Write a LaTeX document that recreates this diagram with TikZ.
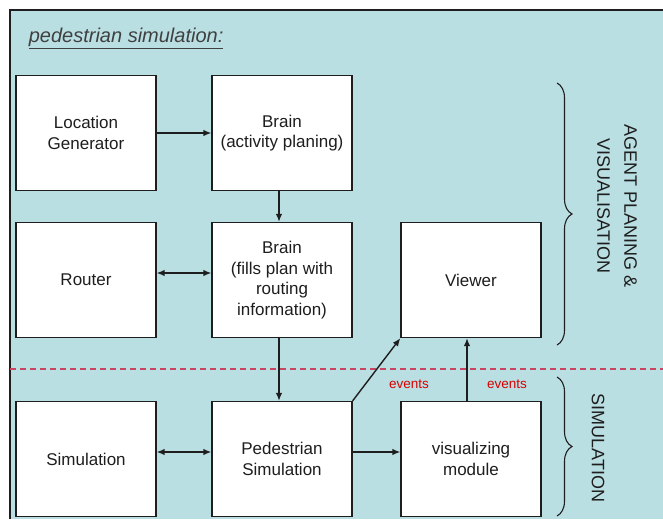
\documentclass[tikz,border=0pt]{standalone}
\usepackage{fontspec}
\setmainfont{Liberation Sans}
\usepackage{xcolor}
\usepackage{tikz}
\usetikzlibrary{arrows.meta,decorations.pathreplacing}

\definecolor{panelbg}{RGB}{186,223,227}
\definecolor{inkgray}{RGB}{30,30,30}
\definecolor{sepred}{RGB}{200,70,95}

\begin{document}
\begin{tikzpicture}[x=1pt,y=-1pt,line width=1pt,
    blockbox/.style={draw=inkgray,fill=white,line width=1.3pt,minimum width=140pt,minimum height=115pt,
      inner sep=0pt,align=center,text=inkgray,font=\fontsize{17}{20.5}\selectfont},
    flow/.style={draw=inkgray,line width=1.4pt,-{Latex[length=8pt,width=6.5pt]}},
    twoway/.style={draw=inkgray,line width=1.4pt,{Latex[length=8pt,width=6.5pt]}-{Latex[length=8pt,width=6.5pt]}},
    evlabel/.style={text=red!85!black,font=\fontsize{13.5}{15}\selectfont},
    layerlabel/.style={rotate=-90,align=center,text=inkgray,font=\fontsize{18}{27}\selectfont}]
    \useasboundingbox (0,0) rectangle (663,519);
    % panel
    \fill[panelbg] (10,10) rectangle (663,519);
    \draw[inkgray,line width=1.3pt] (10,519) -- (10,10) -- (663,10);
    \node[anchor=west,text=inkgray!85,font=\fontsize{20}{23}\selectfont] (title) at (25,38)
      {\underline{\textit{pedestrian simulation:}}};
    % separator
    \coordinate (sepl) at (10,369);
    \coordinate (sepr) at (663,369);
    \draw[sepred,dash pattern=on 6pt off 4pt,line width=1.2pt] (sepl) -- (sepr);
    % blocks
    \node[blockbox] (locgen) at (86,133) {Location\\Generator};
    \node[blockbox] (brain) at (282,133) {Brain\\(activity planing)};
    \node[blockbox] (router) at (86,280) {Router};
    \node[blockbox] (brainroute) at (282,280) {Brain\\(fills plan with\\routing\\information)};
    \node[blockbox] (viewer) at (471,280) {Viewer};
    \node[blockbox] (simul) at (86,459) {Simulation};
    \node[blockbox] (pedsim) at (282,459) {Pedestrian\\Simulation};
    \node[blockbox] (vismod) at (471,459) {visualizing\\module};
    % connectors
    \draw[flow] (locgen) -- (brain);
    \draw[flow] ([xshift=-3pt]brain.south) -- ([xshift=-3pt]brainroute.north);
    \draw[twoway] ([yshift=7pt]router.east) -- ([yshift=7pt]brainroute.west);
    \draw[flow] ([xshift=-3pt]brainroute.south) -- ([xshift=-3pt]pedsim.north);
    \draw[twoway] ([yshift=7pt]simul.east) -- ([yshift=7pt]pedsim.west);
    \draw[flow] ([yshift=7pt]pedsim.east) -- ([yshift=7pt]vismod.west);
    \draw[flow] (pedsim.north east) -- (viewer.south west);
    \draw[flow] ([xshift=-4pt]vismod.north) -- ([xshift=-4pt]viewer.south);
    \node[evlabel] (ev1) at (409,384) {events};
    \node[evlabel] (ev2) at (507,384) {events};
    % braces
    \coordinate (agtop) at (557,83);
    \coordinate (agbot) at (557,345);
    \coordinate (simtop) at (557,377);
    \coordinate (simbot) at (557,516);
    \draw[inkgray,line width=1.1pt,decorate,decoration={brace,amplitude=15pt}] (agtop) -- (agbot);
    \draw[inkgray,line width=1.1pt,decorate,decoration={brace,amplitude=15pt}] (simtop) -- (simbot);
    \node[layerlabel] (aglabel) at (617,206) {AGENT PLANING \&\\VISUALISATION};
    \node[layerlabel] (simlabel) at (598,448) {SIMULATION};
\end{tikzpicture}
\end{document}
